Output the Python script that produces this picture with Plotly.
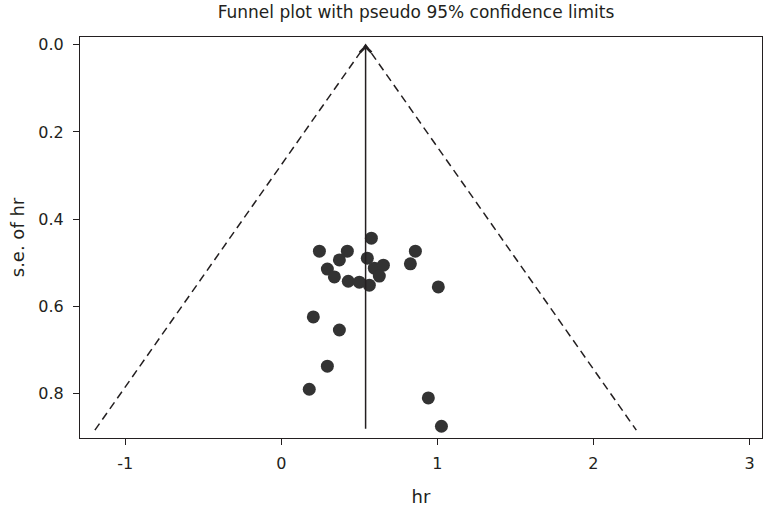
import plotly.graph_objects as go

# study estimates
hr = [0.577, 0.244, 0.423, 0.859, 0.372, 0.551, 0.295, 0.596, 0.654, 0.827, 0.340,
      0.628, 0.429, 0.500, 0.564, 1.006, 0.205, 0.372, 0.295, 0.179, 0.942, 1.026]
se_hr = [0.444, 0.474, 0.474, 0.474, 0.494, 0.490, 0.515, 0.513, 0.506, 0.503, 0.533,
         0.531, 0.543, 0.545, 0.552, 0.556, 0.625, 0.655, 0.738, 0.791, 0.811, 0.876]

pooled = 0.54
se_max = 0.885
z = 1.96

x_ticks = [-1, 0, 1, 2, 3]
x_labels = ['-1', '0', '1', '2', '3']
y_ticks = [0.0, 0.2, 0.4, 0.6, 0.8]
y_labels = ['0.0', '0.2', '0.4', '0.6', '0.8']

font = 'DejaVu Sans'
ink = '#231f20'

# pseudo 95% limits
funnel_x = [pooled - z * se_max, pooled, pooled + z * se_max]
funnel_y = [se_max, 0.0, se_max]

fig = go.Figure()

fig.add_trace(
    go.Scatter(
        x=funnel_x,
        y=funnel_y,
        mode='lines',
        line=dict(color=ink, width=1.5, dash='8px,5px'),
        showlegend=False,
        hoverinfo='skip'
    )
)

fig.add_trace(
    go.Scatter(
        x=hr,
        y=se_hr,
        mode='markers',
        marker=dict(size=13, color='#333333'),
        showlegend=False
    )
)

# pooled estimate line with arrow at the top
fig.add_annotation(
    x=pooled, y=0.0,
    ax=pooled, ay=se_max,
    xref='x', yref='y', axref='x', ayref='y',
    showarrow=True,
    arrowhead=4,
    arrowsize=1.5,
    arrowwidth=1.5,
    arrowcolor=ink,
    text=''
)

axis_common = dict(
    showgrid=False,
    zeroline=False,
    showline=True,
    mirror=True,
    linecolor=ink,
    linewidth=1,
    ticks='outside',
    ticklen=6,
    tickcolor=ink,
    tickfont=dict(family=font, size=16, color=ink),
)

fig.update_layout(
    width=766,
    height=511,
    margin=dict(l=80, r=4, t=37, b=73),
    plot_bgcolor='white',
    paper_bgcolor='white',
    title=dict(
        text='Funnel plot with pseudo 95% confidence limits',
        x=416 / 766, xanchor='center', xref='container',
        y=1 - 12 / 511, yanchor='middle', yref='container',
        font=dict(family=font, size=17, color=ink)
    ),
    xaxis=dict(
        range=[-1.29, 3.08],
        tickvals=x_ticks,
        ticktext=x_labels,
        ticklabelstandoff=5,
        title=dict(text='hr', font=dict(family=font, size=18, color=ink), standoff=18),
        **axis_common
    ),
    yaxis=dict(
        range=[0.903, -0.018],
        tickvals=y_ticks,
        ticktext=y_labels,
        ticklabelstandoff=6,
        title=dict(text='s.e. of hr', font=dict(family=font, size=18, color=ink), standoff=9),
        **axis_common
    ),
)

fig.write_html(
    'out.html',
    config=dict(displayModeBar=False),
    post_script="document.body.style.margin='0';"
)
